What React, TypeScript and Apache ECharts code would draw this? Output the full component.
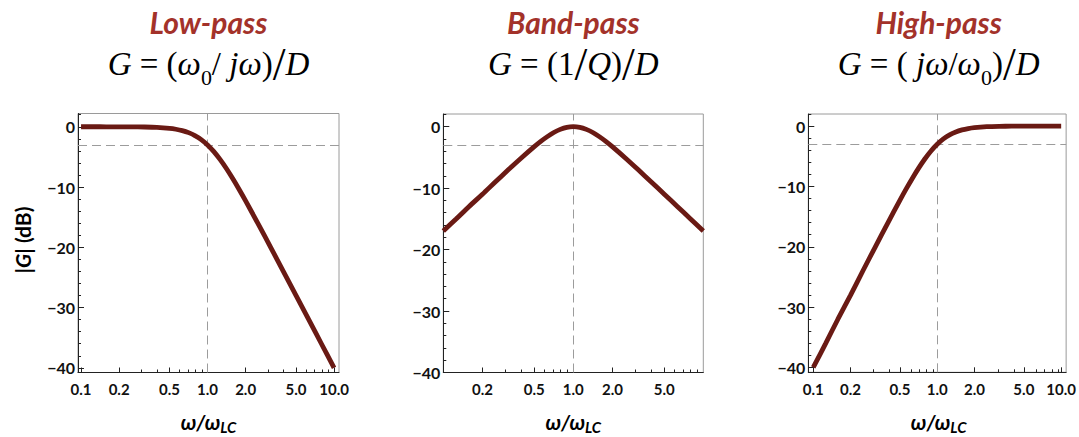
import React, { useEffect, useRef } from "react";
import * as echarts from "echarts";

// ω/ω_LC sample points
const omega = [0.1, 0.126, 0.158, 0.2, 0.251, 0.316, 0.398, 0.501, 0.562, 0.631, 0.708, 0.794, 0.891, 1, 1.122, 1.259, 1.413, 1.585, 1.778, 1.995, 2.512, 3.162, 3.981, 5.012, 6.31, 7.943, 10];

// |G| in dB
const lowPass = [0, -0.001, -0.003, -0.007, -0.017, -0.043, -0.108, -0.266, -0.414, -0.639, -0.973, -1.455, -2.125, -3.01, -4.125, -5.455, -6.973, -8.639, -10.414, -12.266, -16.108, -20.043, -24.017, -28.007, -32.003, -36.001, -40.0];
const bandPass = [-16.99, -14.99, -12.99, -11.0, -9.01, -7.03, -5.1, -3.26, -2.4, -1.63, -0.96, -0.45, -0.11, 0, -0.11, -0.45, -0.96, -1.63, -2.4, -3.26, -5.1, -7.03, -9.01, -11.0, -12.99, -14.99, -16.99];
const highPass = [-40.0, -36.001, -32.003, -28.007, -24.017, -20.043, -16.108, -12.266, -10.414, -8.639, -6.973, -5.455, -4.125, -3.01, -2.125, -1.455, -0.973, -0.639, -0.414, -0.266, -0.108, -0.043, -0.017, -0.007, -0.003, -0.001, 0];

// tick labels
const xTicksFull = [0.1, 0.2, 0.5, 1, 2, 5, 10];
const xTicksBand = [0.2, 0.5, 1, 2, 5];
const xMinorTicks = [0.3, 0.4, 0.6, 0.7, 0.8, 0.9, 3, 4, 6, 7, 8, 9];
const yTicks = [0, -10, -20, -30, -40];
const yMinorTicks = [2, -2, -4, -6, -8, -12, -14, -16, -18, -22, -24, -26, -28, -32, -34, -36, -38];

const cutoffDb = -3;
const cornerOmega = 1;

const panelTitles = ["Low-pass", "Band-pass", "High-pass"];

const LABEL_FONT = "Lato";
const SERIF = "'Liberation Serif', 'DejaVu Serif', serif";
const CURVE = "#6a1a14";
const TITLE_RED = "#a3322a";

const lg = (v: number) => Math.log10(v);

export default function App() {
  const ref = useRef<HTMLDivElement>(null);

  useEffect(() => {
    if (!ref.current) return;
    const chart = echarts.init(ref.current, undefined, { renderer: "svg" });

    const panels = [
      { grid: { left: 78, top: 113.5, width: 261, height: 259 }, x: [-1.024, 1.039], y: [-40.77, 2.2], xt: xTicksFull, data: lowPass },
      { grid: { left: 443.3, top: 114, width: 260, height: 258.5 }, x: [-1.0, 1.0], y: [-40, 2.05], xt: xTicksBand, data: bandPass },
      { grid: { left: 808.3, top: 114, width: 260.7, height: 258.3 }, x: [-1.04, 1.04], y: [-40.8, 2.0], xt: xTicksFull, data: highPass },
    ];

    const grid: any[] = [];
    const xAxis: any[] = [];
    const yAxis: any[] = [];
    const series: any[] = [];

    panels.forEach((p, i) => {
      grid.push({ ...p.grid, show: true, borderColor: "#9a9a9a", borderWidth: 1, backgroundColor: "transparent" });
      xAxis.push({
        type: "value", gridIndex: i, min: p.x[0], max: p.x[1], position: "bottom",
        axisLine: { show: true, onZero: false, lineStyle: { color: "#222", width: 1 } },
        splitLine: { show: false },
        axisTick: { show: true, inside: true, length: 5, customValues: p.xt.map(lg), lineStyle: { color: "#222" } },
        axisLabel: {
          customValues: p.xt.map(lg), margin: 9, color: "#111", fontFamily: LABEL_FONT, fontWeight: "bold", fontSize: 15,
          formatter: (v: number) => Math.pow(10, v).toFixed(1),
        },
      });
      yAxis.push({
        type: "value", gridIndex: i, min: p.y[0], max: p.y[1], position: "left",
        axisLine: { show: true, onZero: false, lineStyle: { color: "#222", width: 1 } },
        splitLine: { show: false },
        axisTick: { show: true, inside: true, length: 6, customValues: yTicks, lineStyle: { color: "#222" } },
        axisLabel: {
          customValues: yTicks, margin: 3, color: "#111", fontFamily: LABEL_FONT, fontWeight: "bold", fontSize: 16,
          formatter: (v: number) => (v < 0 ? "\u2212" + Math.abs(v) : String(v)),
        },
      });
      series.push({
        type: "line",
        xAxisIndex: i,
        yAxisIndex: i,
        data: omega.map((w, k) => [lg(w), p.data[k]]),
        showSymbol: false,
        smooth: 0.3,
        lineStyle: { color: CURVE, width: 4.8 },
        z: 3,
        markLine: {
          silent: true,
          symbol: "none",
          label: { show: false },
          lineStyle: { color: "#9c9c9c", type: [9, 5], width: 1 },
          data: [{ xAxis: lg(cornerOmega) }, { yAxis: cutoffDb }],
          z: 2,
        },
      });
    });

    // overlay grids carrying the minor ticks
    panels.forEach((p, i) => {
      const gi = panels.length + i;
      grid.push({ ...p.grid, show: false });
      xAxis.push({
        type: "value", gridIndex: gi, min: p.x[0], max: p.x[1], position: "bottom",
        axisLine: { show: false, onZero: false }, splitLine: { show: false }, axisLabel: { show: false },
        axisTick: { show: true, inside: true, length: 3, customValues: xMinorTicks.map(lg), lineStyle: { color: "#222" } },
      });
      yAxis.push({
        type: "value", gridIndex: gi, min: p.y[0], max: p.y[1], position: "left",
        axisLine: { show: false, onZero: false }, splitLine: { show: false }, axisLabel: { show: false },
        axisTick: { show: true, inside: true, length: 3, customValues: yMinorTicks, lineStyle: { color: "#222" } },
      });
    });

    const centers = panels.map((p) => p.grid.left + p.grid.width / 2);

    const formulaRich = {
      it: { fontFamily: SERIF, fontStyle: "italic", fontSize: 33, color: "#111", lineHeight: 48 },
      n: { fontFamily: SERIF, fontSize: 33, color: "#111", lineHeight: 48 },
      sub: { fontFamily: SERIF, fontSize: 22, color: "#111", lineHeight: 22, verticalAlign: "bottom" },
      big: { fontFamily: SERIF, fontSize: 46, color: "#111", lineHeight: 48 },
    };
    const formulas = [
      "{it|G}{n| = (}{it|\u03c9}{sub|0}{n|/ }{it|j\u03c9}{n|)}{big|/}{it|D}",
      "{it|G}{n| = (1}{big|/}{it|Q}{n|)}{big|/}{it|D}",
      "{it|G}{n| = ( }{it|j\u03c9}{n|/}{it|\u03c9}{sub|0}{n|)}{big|/}{it|D}",
    ];

    const graphic: any[] = [];
    centers.forEach((c, i) => {
      graphic.push({
        type: "text", x: c, y: 22,
        style: { text: panelTitles[i], fill: TITLE_RED, font: `italic bold 30px ${LABEL_FONT}`, align: "center", verticalAlign: "middle" },
      });
      graphic.push({
        type: "text", x: c, y: 64,
        style: { text: formulas[i], rich: formulaRich, align: "center", verticalAlign: "middle" },
      });
      graphic.push({
        type: "text", x: c, y: 421,
        style: {
          text: "{w|\u03c9/\u03c9}{s|LC}",
          align: "center", verticalAlign: "middle",
          rich: {
            w: { fontFamily: LABEL_FONT, fontWeight: "bold", fontStyle: "italic", fontSize: 21, color: "#111", lineHeight: 26 },
            s: { fontFamily: LABEL_FONT, fontWeight: "bold", fontStyle: "italic", fontSize: 15, color: "#111", lineHeight: 15, verticalAlign: "bottom" },
          },
        },
      });
    });
    graphic.push({
      type: "text", x: 22, y: 240, rotation: Math.PI / 2,
      style: {
        text: "{a||}{g|G}{a|| (dB)}",
        align: "center", verticalAlign: "middle",
        rich: {
          a: { fontFamily: LABEL_FONT, fontWeight: "bold", fontSize: 21, color: "#111" },
          g: { fontFamily: LABEL_FONT, fontWeight: "bold", fontStyle: "italic", fontSize: 21, color: "#111" },
        },
      },
    });

    chart.setOption({
      animation: false,
      backgroundColor: "#fff",
      grid, xAxis, yAxis, series, graphic,
    });
    return () => chart.dispose();
  }, []);

  return <div ref={ref} style={{ position: "fixed", left: 0, top: 0, width: 1079, height: 437 }} />;
}
